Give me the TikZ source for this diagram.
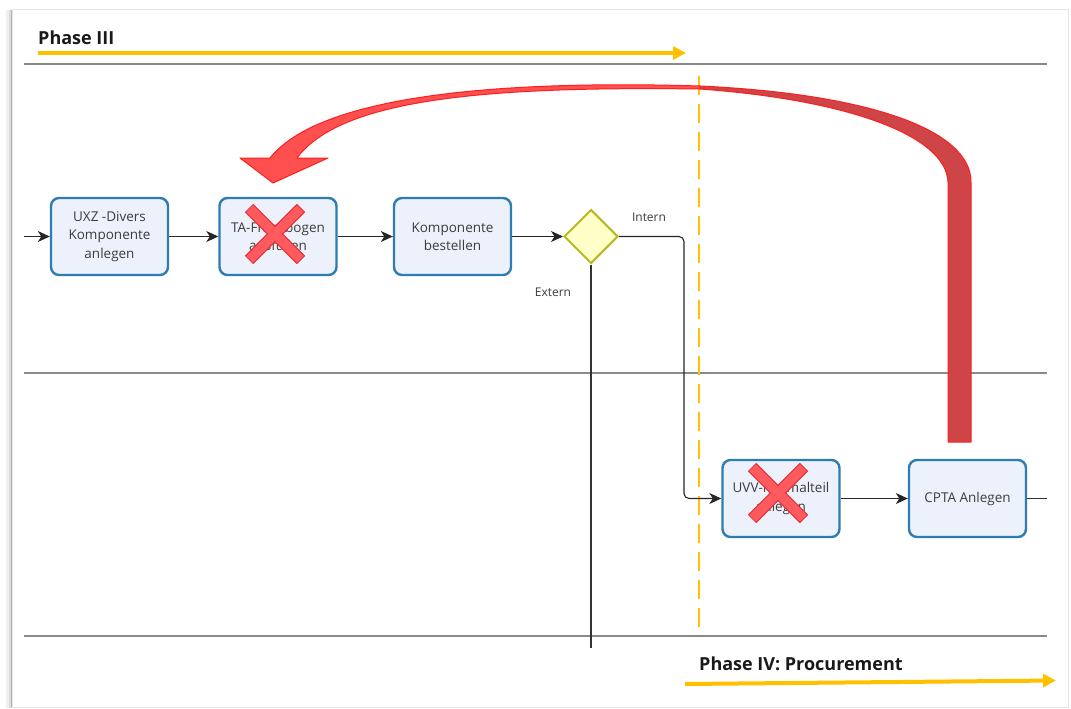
\documentclass[tikz,border=0pt]{standalone}
\usepackage{fontspec}
\setmainfont{Open Sans}
\usetikzlibrary{arrows.meta,shapes.geometric,calc}

\definecolor{taskfill}{HTML}{EDF1FC}
\definecolor{taskdraw}{HTML}{2E7DB0}
\definecolor{gatefill}{HTML}{FFFFC8}
\definecolor{gatedraw}{HTML}{B9B922}
\definecolor{phaseyellow}{HTML}{FFC000}
\definecolor{lanegrey}{HTML}{8A8A8A}
\definecolor{labelgrey}{HTML}{3C3C3C}
\definecolor{crossfill}{HTML}{FF5A5E}
\definecolor{crossedge}{HTML}{E83038}
\definecolor{ribbonback}{HTML}{CF4447}
\definecolor{ribbonfront}{HTML}{FF5050}
\definecolor{ribbonedge}{HTML}{FF1E1E}

\tikzset{
  x=1pt, y=-1pt,
  task/.style={rectangle, rounded corners=8pt, draw=taskdraw, fill=taskfill,
    line width=2.4pt, minimum width=117pt, minimum height=77pt, inner sep=0pt,
    align=center, text=labelgrey, font=\fontsize{13.5}{18.5}\selectfont},
  gateway/.style={diamond, aspect=1, minimum size=54pt, inner sep=0pt,
    draw=gatedraw, fill=gatefill, line width=2pt},
  flow/.style={draw=black!85, line width=1.1pt,
    -{Stealth[length=12pt,width=11pt,inset=3.5pt]}},
  plain/.style={draw=black!80, line width=1.1pt},
  lane/.style={draw=lanegrey, line width=1.3pt},
  edgelabel/.style={inner sep=0pt, text=labelgrey, font=\fontsize{12}{14}\selectfont},
  phasetitle/.style={inner sep=0pt, anchor=west, text=black!90,
    font=\fontsize{18}{20}\selectfont\bfseries},
  phasearrow/.style={draw=phaseyellow, line width=4pt,
    -{Triangle[length=13pt,width=13pt]}},
  crossout/.style={line width=12pt, draw=crossedge},
  crossin/.style={line width=9.5pt, draw=crossfill},
}

\begin{document}
\begin{tikzpicture}
\useasboundingbox (0,0) rectangle (1071,709);
\fill[white] (0,0) rectangle (1071,709);

% sheet with a soft shadow on its left edge
\fill[black!6] (6,10) rectangle (12,708);
\fill[black!14] (9,10) rectangle (12,708);
\draw[black!10, line width=1pt] (12,10) rectangle (1068,707);
\draw[black!30, line width=1.5pt] (11.5,10) -- (11.5,707);

% phase headers
\node[phasetitle] (p3) at (38,38) {Phase III};
\coordinate (p3s) at (38,53);
\coordinate (p3e) at (686,53);
\draw[phasearrow] (p3s) -- (p3e);

\node[phasetitle] (p4) at (699,664) {Phase IV: Procurement};
\coordinate (p4s) at (685,684);
\coordinate (p4e) at (1056,680.5);
\draw[phasearrow] (p4s) -- (p4e);

% lane separators
\coordinate (l1a) at (24,64);   \coordinate (l1b) at (1047,64);
\coordinate (l2a) at (24,373);  \coordinate (l2b) at (1047,373);
\coordinate (l3a) at (24,636);  \coordinate (l3b) at (1047,636);
\draw[lane] (l1a) -- (l1b);
\draw[lane] (l2a) -- (l2b);
\draw[lane] (l3a) -- (l3b);

% phase boundary
\coordinate (bt) at (699,76);
\coordinate (bb) at (699,633);
\draw[phaseyellow, line width=2.6pt, dash pattern=on 19pt off 9pt] (bt) -- (bb);

% tasks
\node[task] (a) at (109.5,236.5) {UXZ -Divers\\Komponente\\anlegen};
\node[task] (b) at (278,236.5) {TA-Fragebogen\\ausfüllen};
\node[task] (c) at (452.5,236.5) {Komponente\\bestellen};
\node[gateway] (g) at (591,236.5) {};
\node[task] (d) at (781,498.5) {UVV-Normalteil\\anlegen};
\node[task] (e) at (967.5,498.5) {CPTA Anlegen};

% sequence flows
\coordinate (in) at (24,236.5);
\coordinate (bend) at (684,0);
\coordinate (extend) at (591,648);
\coordinate (out) at (1047,498.5);
\draw[flow] (in) -- (a);
\draw[flow] (a) -- (b);
\draw[flow] (b) -- (c);
\draw[flow] (c) -- (g);
\draw[flow, rounded corners=5pt] (g.east) -- (g.east -| bend) |- (d.west);
\draw[plain] (g.south) -- (extend);
\draw[flow] (d) -- (e);
\draw[plain] (e) -- (out);

\node[edgelabel] (lint) at (649,217.5) {Intern};
\node[edgelabel] (lext) at (553,292) {Extern};

% crossed-out tasks
\foreach \cx/\cy in {275/234, 778/493} {
  \draw[crossout] (\cx-26,\cy-26) -- (\cx+26,\cy+26);
  \draw[crossout] (\cx+26,\cy-26) -- (\cx-26,\cy+26);
  \draw[crossin] (\cx-25.3,\cy-25.3) -- (\cx+25.3,\cy+25.3);
  \draw[crossin] (\cx+25.3,\cy-25.3) -- (\cx-25.3,\cy+25.3);
}

% curved feedback arrow: back face rising from CPTA, front face ending in the head
\path[fill=ribbonback, draw=ribbonedge, line width=1pt, line join=round]
  (700,86) .. controls (870,94) and (971,130) .. (971,182)
  -- (971,442) -- (948,442) -- (948,182)
  .. controls (946,136) and (850,100) .. (700,89) -- cycle;
\path[fill=ribbonfront, draw=ribbonedge, line width=1pt, line join=round]
  (700,86) .. controls (500,80) and (320,95) .. (270,158)
  -- (240,158) -- (273,183) -- (328,158) -- (297,158)
  .. controls (340,100) and (480,86) .. (700,89) -- cycle;
\end{tikzpicture}
\end{document}
